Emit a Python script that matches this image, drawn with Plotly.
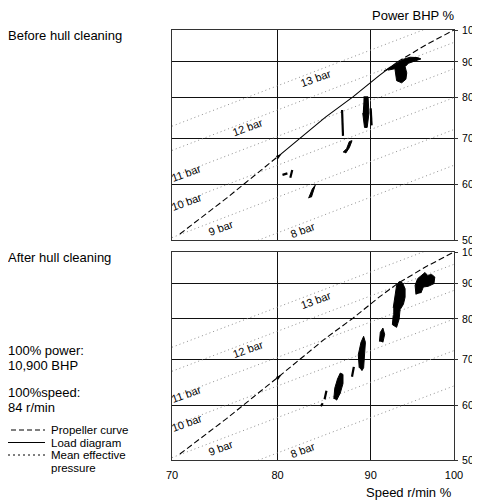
import math
import plotly.graph_objects as go

# ---------------- data ----------------
speed_ticks = [70, 80, 90, 100]
power_ticks = [50, 60, 70, 80, 90, 100]

# propeller curve / load diagram (speed %, power %)
prop_speed = [70.7, 75, 80, 85, 88, 91, 93.1, 96.5, 100]
prop_power = [51.0, 57.4, 65.8, 75.0, 80.2, 86.1, 90.0, 95.2, 100]

# mean effective pressure lines: power % at 70 % and 100 % speed
mep_bars = [8, 9, 10, 11, 12, 13]
mep_power_at70 = [44.8, 50.4, 56.0, 61.6, 67.2, 72.8]
mep_power_at100 = [64.0, 72.0, 80.0, 88.0, 96.0, 104.0]
mep_label_speed = [82.6, 74.4, 71.3, 71.3, 77.1, 84.0]
mep_label_power = [51.7, 52.1, 56.6, 62.3, 72.5, 85.3]

# measured points, before hull cleaning (outlines of the dark clusters)
before_blobs = [
    ([91.5, 92.3, 93.0, 93.8, 94.6, 95.5, 95.9, 95.0, 94.4, 94.0, 94.2, 94.1, 93.6, 93.0, 92.9, 92.8, 92.0],
     [87.3, 88.6, 89.7, 90.8, 91.4, 91.3, 90.9, 90.2, 89.6, 88.6, 86.8, 85.0, 84.0, 84.6, 86.5, 88.0, 87.6]),
    ([89.2, 89.7, 89.8, 89.6, 89.3, 89.1],
     [80.2, 80.2, 76.0, 72.5, 72.5, 76.0]),
    ([86.9, 87.3, 87.6, 87.9, 87.6, 87.2],
     [66.8, 67.6, 69.2, 69.4, 67.8, 66.6]),
    ([83.2, 83.6, 83.9, 83.5],
     [57.4, 59.2, 59.9, 57.6]),
]
before_streaks = [
    ([90.0, 90.1], [77.2, 73.0]),
    ([86.8, 86.9], [76.8, 70.5]),
    ([80.5, 81.0], [62.0, 62.3]),
    ([81.3, 81.5], [61.4, 63.0]),
]

# measured points, after hull cleaning
after_blobs = [
    ([95.3, 95.2, 95.5, 96.0, 96.4, 96.7, 97.2, 97.6, 97.5, 96.8, 96.2, 95.9],
     [86.8, 89.5, 91.5, 92.5, 93.4, 92.5, 92.8, 92.0, 90.0, 89.2, 89.0, 87.2]),
    ([92.6, 92.8, 93.0, 93.3, 93.7, 94.0, 94.0, 93.8, 93.4, 93.3, 93.0, 92.5, 92.6],
     [83.0, 86.5, 89.5, 90.6, 90.2, 88.5, 86.0, 84.0, 82.5, 80.0, 77.8, 78.5, 81.0]),
    ([88.7, 88.6, 88.9, 89.2, 89.4, 89.3, 89.2, 89.0],
     [68.0, 71.0, 74.0, 75.5, 74.0, 71.0, 68.0, 67.3]),
    ([85.9, 86.0, 86.3, 86.6, 86.9, 86.9, 86.6, 86.2],
     [61.3, 63.5, 65.5, 66.8, 66.5, 64.5, 62.5, 61.0]),
    ([91.0, 91.1, 91.4, 91.6, 91.4],
     [74.2, 76.5, 77.6, 76.0, 74.0]),
]
after_streaks = [
    ([87.9, 88.1], [66.0, 68.2]),
    ([84.9, 85.1], [61.2, 63.0]),
    ([84.5, 84.7], [59.8, 60.4]),
]

arrow_speed = [80.4]
arrow_power = [66.4]

# ---------------- figure ----------------
FONT = "Liberation Sans, Arial, sans-serif"
W, H = 480, 502
OFF = 8                      # page body margin of the generated html
PL, PR, PT, PB = 172, 454, 30, 460   # plot area in page pixels
PW, PH = PR - PL, PB - PT


def px(x):
    return (x - PL) / PW


def py(y):
    return (PB - y) / PH


fig = go.Figure()

panels = [("x", "y", before_blobs, before_streaks, True),
          ("x2", "y2", after_blobs, after_streaks, False)]

for xa, ya, blobs, streaks, solid_mid in panels:
    for b, p70, p100 in zip(mep_bars, mep_power_at70, mep_power_at100):
        fig.add_trace(go.Scatter(
            x=[70, 100], y=[p70, p100], xaxis=xa, yaxis=ya, mode="lines",
            line=dict(color="#8f8f8f", width=1, dash="1px,3px"),
            showlegend=False, hoverinfo="skip"))
    if solid_mid:
        segs = [(0, 3, "6px,3px"), (2, 7, "solid"), (6, 9, "6px,3px")]
    else:
        segs = [(0, 9, "6px,3px")]
    for i0, i1, dash in segs:
        fig.add_trace(go.Scatter(
            x=prop_speed[i0:i1], y=prop_power[i0:i1], xaxis=xa, yaxis=ya,
            mode="lines", line=dict(color="black", width=1.1, dash=dash),
            showlegend=False, hoverinfo="skip"))
    fig.add_trace(go.Scatter(
        x=arrow_speed, y=arrow_power, xaxis=xa, yaxis=ya, mode="markers",
        marker=dict(symbol="arrow", angle=52, size=6, color="black"),
        showlegend=False, hoverinfo="skip"))
    for sx, sy in blobs:
        fig.add_trace(go.Scatter(
            x=sx, y=sy, xaxis=xa, yaxis=ya, mode="lines", fill="toself",
            fillcolor="black", line=dict(color="black", width=1),
            showlegend=False, hoverinfo="skip"))
    for sx, sy in streaks:
        fig.add_trace(go.Scatter(
            x=sx, y=sy, xaxis=xa, yaxis=ya, mode="lines",
            line=dict(color="black", width=2.2),
            showlegend=False, hoverinfo="skip"))
    for b, lx, ly in zip(mep_bars, mep_label_speed, mep_label_power):
        fig.add_annotation(
            x=math.log10(lx), y=math.log10(ly), xref=xa, yref=ya,
            xanchor="center", yanchor="middle",
            text=f"{b} bar", showarrow=False, textangle=-20,
            font=dict(size=11, color="black", family=FONT))

xcommon = dict(type="log", range=[math.log10(70), math.log10(100)],
               tickvals=speed_ticks, ticktext=[str(v) for v in speed_ticks],
               showgrid=True, gridcolor="#111", gridwidth=1.2,
               showline=True, linecolor="#333", linewidth=1, mirror=True,
               zeroline=False, ticks="", ticklabelstandoff=5, automargin=False,
               tickfont=dict(size=11, color="black", family=FONT))
ycommon = dict(type="log", range=[math.log10(50), 2],
               tickvals=power_ticks, ticktext=[str(v) for v in power_ticks],
               showgrid=True, gridcolor="#111", gridwidth=1.2,
               showline=True, linecolor="#333", linewidth=1, mirror=True,
               zeroline=False, side="right", ticks="outside", ticklen=3,
               tickcolor="#333", ticklabelstandoff=2, automargin=False,
               tickfont=dict(size=10.5, color="black", family=FONT))

fig.update_layout(
    width=W, height=H,
    margin=dict(l=PL - OFF, r=W - (PR - OFF), t=PT - OFF, b=H - (PB - OFF), pad=0,
                autoexpand=False),
    paper_bgcolor="white", plot_bgcolor="white",
    font=dict(family=FONT, size=11, color="black"),
    xaxis=dict(xcommon, domain=[0, 1], anchor="y", showticklabels=False),
    yaxis=dict(ycommon, domain=[py(240), 1], anchor="x"),
    xaxis2=dict(xcommon, domain=[0, 1], anchor="y2", showticklabels=True),
    yaxis2=dict(ycommon, domain=[0, py(252)], anchor="x2"),
    showlegend=False,
)

texts = [
    ("Before hull cleaning", 7, 36, 13),
    ("After hull cleaning", 7, 258, 13),
    ("100% power:", 7, 350, 13),
    ("10,900 BHP", 7, 365, 13),
    ("100%speed:", 7, 392, 13),
    ("84 r/min", 7, 407, 13),
    ("Propeller curve", 50, 430, 11.5),
    ("Load diagram", 50, 442.5, 11.5),
    ("Mean effective", 50, 455, 11.5),
    ("pressure", 50, 467.5, 11.5),
]
for t, x0, y0, fs in texts:
    fig.add_annotation(x=px(x0), y=py(y0), xref="paper", yref="paper",
                       xanchor="left", yanchor="middle", text=t, showarrow=False,
                       borderpad=0,
                       font=dict(size=fs, color="black", family=FONT))

for y0, dash in [(430, "5px,3px"), (442.5, "solid"), (455, "2px,3px")]:
    fig.add_shape(type="line", xref="paper", yref="paper",
                  x0=px(3), x1=px(45), y0=py(y0), y1=py(y0),
                  line=dict(color="black", width=1, dash=dash))

fig.add_annotation(x=px(413), y=py(16), xref="paper", yref="paper",
                   xanchor="center", yanchor="middle", borderpad=0,
                   text="Power BHP %", showarrow=False,
                   font=dict(size=13, color="black", family=FONT))
fig.add_annotation(x=px(409), y=py(492), xref="paper", yref="paper",
                   xanchor="center", yanchor="middle", borderpad=0,
                   text="Speed r/min %", showarrow=False,
                   font=dict(size=13, color="black", family=FONT))

fig.write_html("out.html")
